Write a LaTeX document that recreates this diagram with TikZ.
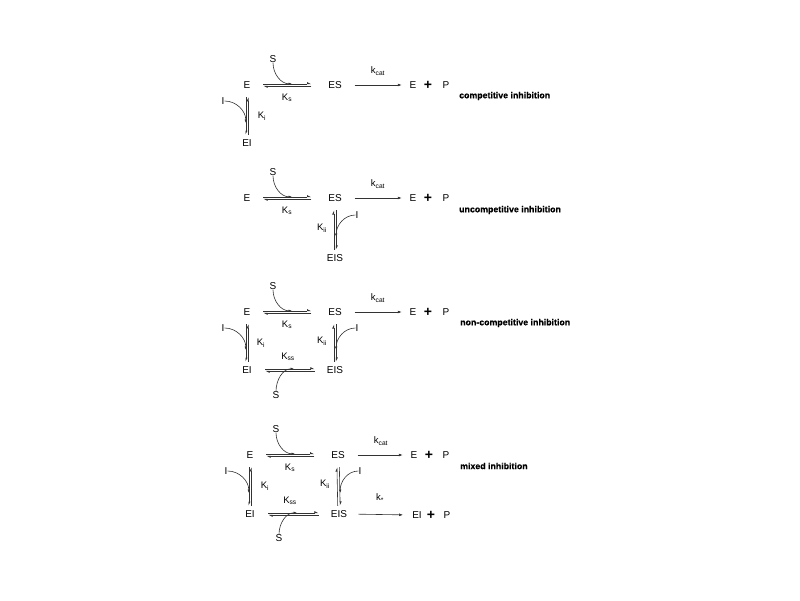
\documentclass[tikz,border=0pt]{standalone}
\usepackage{fontspec}
\setmainfont{Liberation Sans}
\newfontfamily\heavy[BoldFeatures={FakeBold=0.6}]{Liberation Sans}
\usetikzlibrary{arrows.meta}
\begin{document}
\begin{tikzpicture}[x=1pt,y=-1pt,
  sp/.style={inner sep=0pt, font=\fontsize{10}{12}\selectfont},
  cst/.style={inner sep=0pt, font=\fontsize{9.5}{11}\selectfont},
  pls/.style={inner sep=0pt, font=\bfseries\fontsize{14}{14}\selectfont},
  lbl/.style={inner sep=0pt, anchor=west, font=\heavy\bfseries\fontsize{8.8}{10}\selectfont},
  ln/.style={line width=0.6pt, draw=black!80},
  hp/.style={ln, -{Latex[harpoon,length=3.5pt,width=3.6pt]}},
  rx/.style={ln, -{Latex[length=4pt,width=2.8pt]}},
  cv/.style={ln, -{Latex[length=3.5pt,width=2.6pt]}},
  hpre/.style={shorten <=12.7pt, shorten >=16.7pt},
  hback/.style={shorten <=16.7pt, shorten >=12.7pt},
  vdown/.style={shorten <=8.4pt, shorten >=4.4pt},
  vup/.style={shorten <=4.4pt, shorten >=8.4pt},
]
\useasboundingbox (0,0) rectangle (800,600);
\fill[white] (0,0) rectangle (800,600);

% ---------- competitive ----------
\begin{scope}
\node[sp] (E1) at (247,85) {E};
\node[sp] (ES1) at (335,85) {ES};
\node[sp] (S1) at (273,59) {S};
\node[cst] (Ks1) at (287,98) {K\textsubscript{s}};
\node[cst] (kc1) at (378,71) {k\textsubscript{cat}};
\node[sp] (Ep1) at (413,85) {E};
\node[pls] (pl1) at (428,85) {+};
\node[sp] (P1) at (446,85) {P};
\node[lbl] (L1) at (459,96) {competitive inhibition};
\node[sp] (EI1) at (247,143) {EI};
\node[sp] (I1) at (223,101) {I};
\node[cst] (Ki1) at (262,116) {K\textsubscript{i}};
\coordinate (Sj1) at (292,83.8);
\coordinate (Ij1) at (245.8,123);
\draw[hp,hpre] ([yshift=1.2pt]E1.east) -- ([yshift=1.2pt]ES1.west);
\draw[hp,hback] ([yshift=-1.2pt]ES1.west) -- ([yshift=-1.2pt]E1.east);
\draw[cv] (S1.south) to[out=-90,in=180] (Sj1);
\draw[rx,shorten <=12.7pt,shorten >=7.7pt] (ES1.east) -- (Ep1.west);
\draw[hp,vdown] ([xshift=-1.2pt]E1.south) -- ([xshift=-1.2pt]EI1.north);
\draw[hp,vup] ([xshift=1.2pt]EI1.north) -- ([xshift=1.2pt]E1.south);
\draw[cv] (I1.east) to[out=0,in=90] (Ij1);
\end{scope}

% ---------- uncompetitive ----------
\begin{scope}[shift={(0,113)}]
\node[sp] (E2) at (247,85) {E};
\node[sp] (ES2) at (335,85) {ES};
\node[sp] (S2) at (273,59) {S};
\node[cst] (Ks2) at (287,98) {K\textsubscript{s}};
\node[cst] (kc2) at (378,71) {k\textsubscript{cat}};
\node[sp] (Ep2) at (413,85) {E};
\node[pls] (pl2) at (428,85) {+};
\node[sp] (P2) at (446,85) {P};
\node[lbl] (L2) at (459,97) {uncompetitive inhibition};
\node[sp] (EIS2) at (335,145) {EIS};
\node[sp] (I2) at (357,102) {I};
\node[cst] (Kii2) at (322,115) {K\textsubscript{ii}};
\coordinate (Sj2) at (292,83.8);
\coordinate (Ij2) at (336.2,124);
\draw[hp,hpre] ([yshift=1.2pt]E2.east) -- ([yshift=1.2pt]ES2.west);
\draw[hp,hback] ([yshift=-1.2pt]ES2.west) -- ([yshift=-1.2pt]E2.east);
\draw[cv] (S2.south) to[out=-90,in=180] (Sj2);
\draw[rx,shorten <=12.7pt,shorten >=7.7pt] (ES2.east) -- (Ep2.west);
\draw[hp,vdown] ([xshift=1.2pt]ES2.south) -- ([xshift=1.2pt]EIS2.north);
\draw[hp,vup] ([xshift=-1.2pt]EIS2.north) -- ([xshift=-1.2pt]ES2.south);
\draw[cv] (I2.west) to[out=180,in=90] (Ij2);
\end{scope}

% ---------- non-competitive ----------
\begin{scope}[shift={(0,227)}]
\node[sp] (E3) at (247,85) {E};
\node[sp] (ES3) at (335,85) {ES};
\node[sp] (S3) at (273,59) {S};
\node[cst] (Ks3) at (287,98) {K\textsubscript{s}};
\node[cst] (kc3) at (378,71) {k\textsubscript{cat}};
\node[sp] (Ep3) at (413,85) {E};
\node[pls] (pl3) at (428,85) {+};
\node[sp] (P3) at (446,85) {P};
\node[lbl] (L3) at (460,96) {non-competitive inhibition};
\node[sp] (EI3) at (247,143) {EI};
\node[sp] (EIS3) at (335,143) {EIS};
\node[sp] (I3a) at (223,101) {I};
\node[cst] (Ki3) at (261,116) {K\textsubscript{i}};
\node[sp] (I3b) at (357,101) {I};
\node[cst] (Kii3) at (322,114) {K\textsubscript{ii}};
\node[cst] (Kss3) at (288,130) {K\textsubscript{ss}};
\node[sp] (S3b) at (276,168) {S};
\coordinate (Sj3) at (292,83.8);
\coordinate (Sk3) at (294,141.8);
\coordinate (Ij3a) at (245.8,123);
\coordinate (Ij3b) at (336.2,123);
\draw[hp,hpre] ([yshift=1.2pt]E3.east) -- ([yshift=1.2pt]ES3.west);
\draw[hp,hback] ([yshift=-1.2pt]ES3.west) -- ([yshift=-1.2pt]E3.east);
\draw[cv] (S3.south) to[out=-90,in=180] (Sj3);
\draw[rx,shorten <=12.7pt,shorten >=7.7pt] (ES3.east) -- (Ep3.west);
\draw[hp,vdown] ([xshift=-1.2pt]E3.south) -- ([xshift=-1.2pt]EI3.north);
\draw[hp,vup] ([xshift=1.2pt]EI3.north) -- ([xshift=1.2pt]E3.south);
\draw[cv] (I3a.east) to[out=0,in=90] (Ij3a);
\draw[hp,vdown] ([xshift=1.2pt]ES3.south) -- ([xshift=1.2pt]EIS3.north);
\draw[hp,vup] ([xshift=-1.2pt]EIS3.north) -- ([xshift=-1.2pt]ES3.south);
\draw[cv] (I3b.west) to[out=180,in=90] (Ij3b);
\draw[hp,shorten <=13.3pt,shorten >=12pt] ([yshift=1.2pt]EI3.east) -- ([yshift=1.2pt]EIS3.west);
\draw[hp,shorten <=12pt,shorten >=13.3pt] ([yshift=-1.2pt]EIS3.west) -- ([yshift=-1.2pt]EI3.east);
\draw[cv] (S3b.north) to[out=90,in=180] (Sk3);
\end{scope}

% ---------- mixed ----------
\begin{scope}[shift={(3,370)}]
\node[sp] (E4) at (247,85) {E};
\node[sp] (ES4) at (335,85) {ES};
\node[sp] (S4) at (273,59) {S};
\node[cst] (Ks4) at (287,98) {K\textsubscript{s}};
\node[cst] (kc4) at (378,71) {k\textsubscript{cat}};
\node[sp] (Ep4) at (411,85) {E};
\node[pls] (pl4) at (426,85) {+};
\node[sp] (P4) at (443,85) {P};
\node[lbl] (L4) at (457,96) {mixed inhibition};
\node[sp] (EI4) at (247,144) {EI};
\node[sp] (EIS4) at (336,144) {EIS};
\node[sp] (I4a) at (223,101) {I};
\node[cst] (Ki4) at (262,116) {K\textsubscript{i}};
\node[sp] (I4b) at (357,101) {I};
\node[cst] (Kii4) at (322,114) {K\textsubscript{ii}};
\node[cst] (Kss4) at (287,131) {K\textsubscript{ss}};
\node[sp] (S4b) at (276,168) {S};
\node[cst] (kx4) at (377,128) {k\textsubscript{*}};
\node[sp] (EIp4) at (414,145) {EI};
\node[pls] (pl4b) at (428,145) {+};
\node[sp] (P4b) at (444,145) {P};
\coordinate (Sj4) at (292,83.8);
\coordinate (Sk4) at (294,142.8);
\coordinate (Ij4a) at (245.8,123);
\coordinate (Ij4b) at (337.2,123);
\draw[hp,hpre] ([yshift=1.2pt]E4.east) -- ([yshift=1.2pt]ES4.west);
\draw[hp,hback] ([yshift=-1.2pt]ES4.west) -- ([yshift=-1.2pt]E4.east);
\draw[cv] (S4.south) to[out=-90,in=180] (Sj4);
\draw[rx,shorten <=12.7pt,shorten >=7.7pt] (ES4.east) -- (Ep4.west);
\draw[hp,vdown] ([xshift=-1.2pt]E4.south) -- ([xshift=-1.2pt]EI4.north);
\draw[hp,vup] ([xshift=1.2pt]EI4.north) -- ([xshift=1.2pt]E4.south);
\draw[cv] (I4a.east) to[out=0,in=90] (Ij4a);
\draw[hp,vdown] ([xshift=1.2pt]ES4.south) -- ([xshift=1.2pt]EIS4.north);
\draw[hp,vup] ([xshift=-1.2pt]EIS4.north) -- ([xshift=-1.2pt]ES4.south);
\draw[cv] (I4b.west) to[out=180,in=90] (Ij4b);
\draw[hp,shorten <=13.3pt,shorten >=12pt] ([yshift=1.2pt]EI4.east) -- ([yshift=1.2pt]EIS4.west);
\draw[hp,shorten <=12pt,shorten >=13.3pt] ([yshift=-1.2pt]EIS4.west) -- ([yshift=-1.2pt]EI4.east);
\draw[cv] (S4b.north) to[out=90,in=180] (Sk4);
\draw[rx,shorten <=11pt,shorten >=9pt] (EIS4.east) -- (EIp4.west);
\end{scope}
\end{tikzpicture}
\end{document}
